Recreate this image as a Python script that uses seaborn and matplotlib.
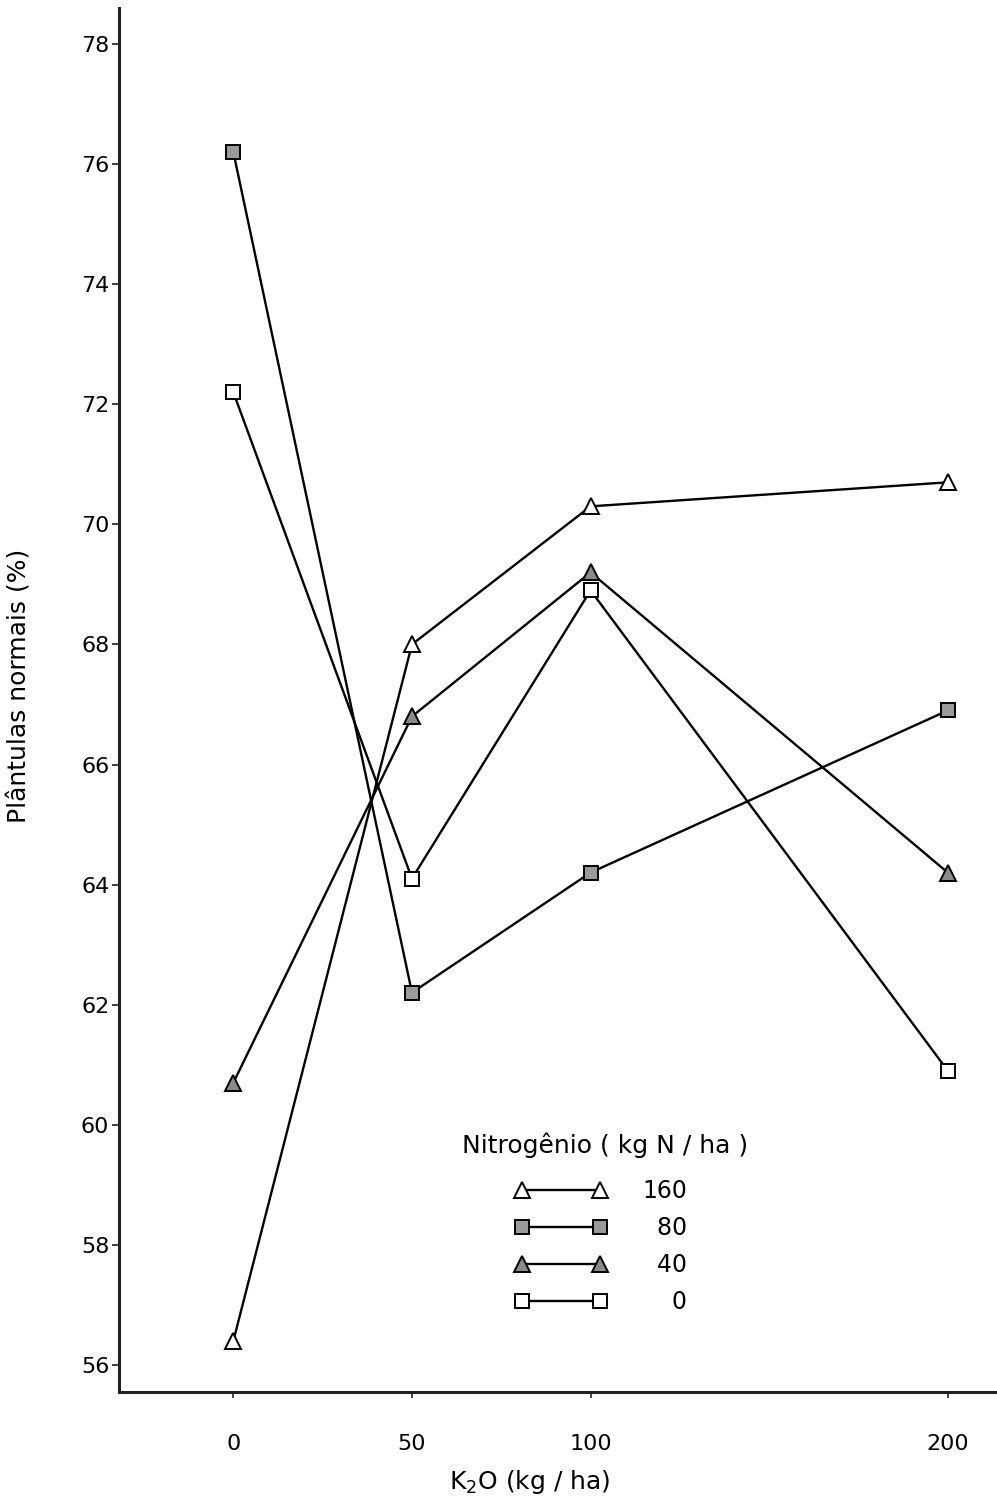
import matplotlib
matplotlib.use("Agg")
import matplotlib.pyplot as plt
import seaborn as sns
import pandas as pd

# ---- data ----
k2o = [0, 50, 100, 200]
n_levels = ["160", "80", "40", "0"]
n160 = [56.4, 68.0, 70.3, 70.7]
n80 = [76.2, 62.2, 64.2, 66.9]
n40 = [60.7, 66.8, 69.2, 64.2]
n0 = [72.2, 64.1, 68.9, 60.9]
series = {"160": n160, "80": n80, "40": n40, "0": n0}
y_ticks = [56, 58, 60, 62, 64, 66, 68, 70, 72, 74, 76, 78]
x_ticks = [0, 50, 100, 200]

rows = []
for lvl in n_levels:
    for x, y in zip(k2o, series[lvl]):
        rows.append({"K2O": x, "valor": y, "N": lvl})
df = pd.DataFrame(rows)

sns.set_theme(style="white")
plt.rcParams["font.family"] = ["DejaVu Sans"]

fig = plt.figure(figsize=(9.97, 15.11), dpi=100)
ax = fig.add_axes([0.1194, 0.0788, 0.8796, 0.9159])

styles = {
    "160": dict(marker="^", markerfacecolor="white", markersize=12),
    "80": dict(marker="s", markerfacecolor="#9a9a9a", markersize=10),
    "40": dict(marker="^", markerfacecolor="#8a8a8a", markersize=12),
    "0": dict(marker="s", markerfacecolor="white", markersize=10),
}
label_txt = {"160": "160", "80": "\u200780", "40": "\u200740", "0": "\u2007\u20070"}

for lvl in n_levels:
    sub = df[df["N"] == lvl]
    sns.lineplot(data=sub, x="K2O", y="valor", ax=ax, color="black",
                 linewidth=1.7, markeredgecolor="black", markeredgewidth=1.4,
                 label=label_txt[lvl], **styles[lvl])

ax.set_xlim(-32, 213.5)
ax.set_ylim(55.55, 78.6)
ax.set_xticks(x_ticks)
ax.set_xticklabels([str(v) for v in x_ticks])
ax.set_yticks(y_ticks)
ax.set_yticklabels([str(v) for v in y_ticks])

for side in ["top", "right"]:
    ax.spines[side].set_visible(False)
for side in ["left", "bottom"]:
    ax.spines[side].set_color("#222222")
    ax.spines[side].set_linewidth(2.2)

ax.tick_params(axis="y", which="both", left=True, length=5, width=1.2,
               direction="out", pad=2, labelsize=16, colors="#222222")
ax.tick_params(axis="x", which="both", bottom=True, length=4, width=1.2,
               direction="out", pad=26, labelsize=16, colors="#222222")
for t in ax.get_yticklabels() + ax.get_xticklabels():
    t.set_color("black")

ax.set_xlabel("K$_2$O (kg / ha)", fontsize=18, color="black")
ax.set_ylabel("Plântulas normais (%)", fontsize=18, color="black")
ax.xaxis.set_label_coords(0.468, -0.055)
ax.yaxis.set_label_coords(-0.10, 0.51)

# legend title as separate text, entries indented like the original
ax.text(0.391, 0.178, "Nitrogênio ( kg N / ha )", transform=ax.transAxes,
        fontsize=18, color="black", ha="left", va="center")
leg = ax.legend(loc="upper left", bbox_to_anchor=(0.451, 0.154), frameon=False,
                numpoints=2, handlelength=3.9, handletextpad=1.5,
                labelspacing=0.55, fontsize=17, borderaxespad=0, borderpad=0)
for t in leg.get_texts():
    t.set_color("black")

fig.savefig("out.png", dpi=100, facecolor="white")
